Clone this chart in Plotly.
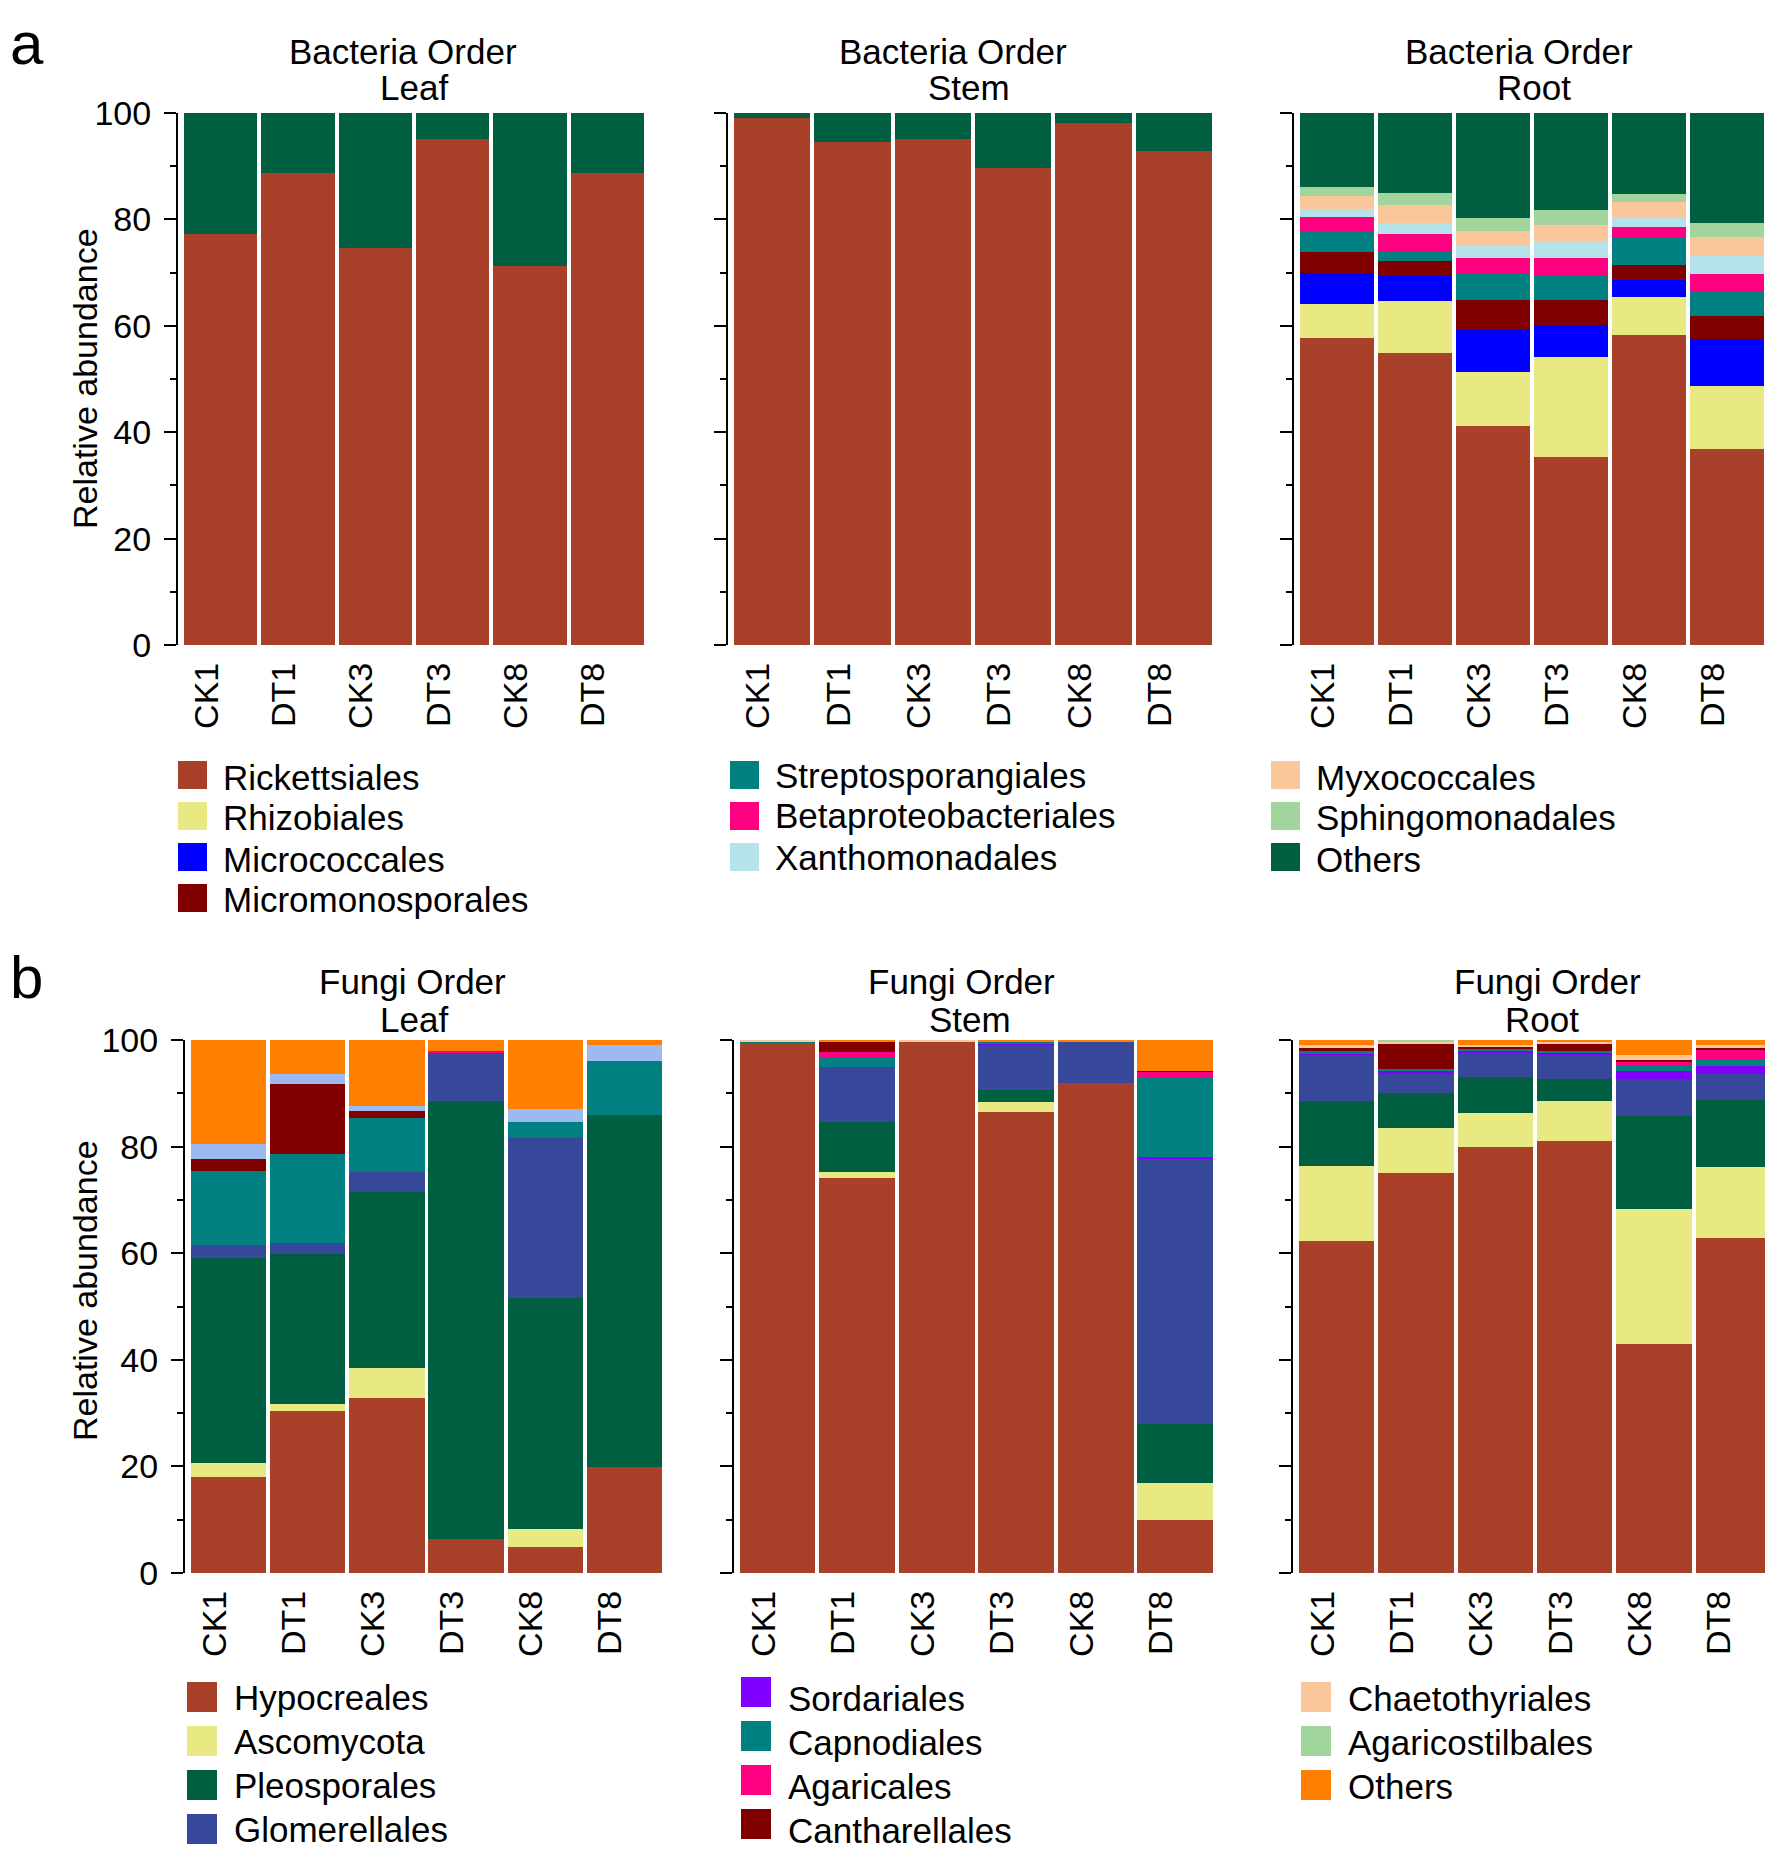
import plotly.graph_objects as go

W, H = 1773, 1857

samples = ["CK1", "DT1", "CK3", "DT3", "CK8", "DT8"]
tissues = ["Leaf", "Stem", "Root"]

# ---------------- Bacteria (values per tissue: Leaf, Stem, Root; 6 samples each) ----------------
bac_names = ["Rickettsiales", "Rhizobiales", "Micrococcales", "Micromonosporales",
             "Streptosporangiales", "Betaproteobacteriales", "Xanthomonadales",
             "Myxococcales", "Sphingomonadales", "Others"]
bac_colors = ["#A8402A", "#E8E982", "#0000FF", "#800000", "#008080", "#FF0080",
              "#B6E3EA", "#F9C799", "#A2D59B", "#005F40"]

rickettsiales = [77.2, 88.8, 74.6, 95.1, 71.2, 88.8,
                 99.1, 94.6, 95.1, 89.7, 98.2, 92.9,
                 57.7, 54.9, 41.2, 35.3, 58.2, 36.9]
rhizobiales = [0, 0, 0, 0, 0, 0,
               0, 0, 0, 0, 0, 0,
               6.4, 9.7, 10.1, 18.9, 7.2, 11.8]
micrococcales = [0, 0, 0, 0, 0, 0,
                 0, 0, 0, 0, 0, 0,
                 5.8, 4.7, 8.0, 6.0, 3.2, 8.8]
micromonosporales = [0, 0, 0, 0, 0, 0,
                     0, 0, 0, 0, 0, 0,
                     4.0, 2.8, 5.6, 4.6, 2.9, 4.4]
streptosporangiales = [0, 0, 0, 0, 0, 0,
                       0, 0, 0, 0, 0, 0,
                       3.8, 2.0, 4.9, 4.7, 5.0, 4.6]
betaproteobacteriales = [0, 0, 0, 0, 0, 0,
                         0, 0, 0, 0, 0, 0,
                         2.7, 3.1, 3.0, 3.3, 2.0, 3.3]
xanthomonadales = [0, 0, 0, 0, 0, 0,
                   0, 0, 0, 0, 0, 0,
                   1.5, 2.2, 2.2, 3.2, 1.7, 3.3]
myxococcales = [0, 0, 0, 0, 0, 0,
                0, 0, 0, 0, 0, 0,
                2.5, 3.4, 2.8, 2.9, 3.0, 3.5]
sphingomonadales = [0, 0, 0, 0, 0, 0,
                    0, 0, 0, 0, 0, 0,
                    1.7, 2.1, 2.5, 2.9, 1.6, 2.8]
bac_others = [22.8, 11.2, 25.4, 4.9, 28.8, 11.2,
              0.9, 5.4, 4.9, 10.3, 1.8, 7.1,
              13.9, 15.1, 19.7, 18.2, 15.2, 20.6]
bac_values = [rickettsiales, rhizobiales, micrococcales, micromonosporales,
              streptosporangiales, betaproteobacteriales, xanthomonadales,
              myxococcales, sphingomonadales, bac_others]

# ---------------- Fungi ----------------
fun_names = ["Hypocreales", "Ascomycota", "Pleosporales", "Glomerellales",
             "Sordariales", "Capnodiales", "Agaricales", "Cantharellales",
             "Chaetothyriales", "Agaricostilbales", "unlabelled", "Others"]
fun_colors = ["#A8402A", "#E8E982", "#005F40", "#37479A", "#8000FF", "#008080",
              "#FF0080", "#800000", "#F9C799", "#A2D59B", "#9CB9F0", "#FF8000"]
fun_legend = [True, True, True, True, True, True, True, True, True, True, False, True]

hypocreales = [18.0, 30.4, 32.9, 6.4, 4.8, 19.9,
               99.6, 74.1, 99.8, 86.5, 92.0, 10.0,
               62.2, 75.1, 80.0, 81.1, 43.0, 62.8]
ascomycota = [2.6, 1.4, 5.6, 0, 3.4, 0,
              0, 1.1, 0, 1.8, 0, 6.8,
              14.1, 8.4, 6.3, 7.4, 25.3, 13.3]
pleosporales = [38.5, 28.1, 32.9, 82.1, 43.4, 66.0,
                0, 9.5, 0, 2.3, 0, 11.1,
                12.3, 6.6, 6.8, 4.2, 17.4, 12.7]
glomerellales = [2.5, 2.0, 3.8, 9.2, 30.0, 0,
                 0, 10.3, 0, 8.6, 7.6, 49.8,
                 8.6, 3.5, 4.5, 4.4, 6.9, 4.9]
sordariales = [0, 0, 0, 0, 0, 0,
               0, 0, 0, 0.2, 0, 0.3,
               0.3, 0.5, 0.5, 0.5, 1.5, 1.5]
capnodiales = [13.9, 16.8, 10.1, 0, 3.1, 10.2,
               0.2, 1.7, 0, 0.3, 0, 15.1,
               0.3, 0.5, 0.3, 0.3, 1.0, 1.3]
agaricales = [0, 0, 0, 0.2, 0, 0,
              0, 1.0, 0, 0, 0, 0.9,
              0.2, 0, 0, 0, 0.9, 1.7]
cantharellales = [2.2, 13.1, 1.4, 0, 0, 0,
                  0, 2.0, 0, 0, 0, 0.2,
                  0.5, 4.8, 0.3, 1.5, 0.3, 0.3]
chaetothyriales = [0, 0, 0, 0, 0, 0,
                   0.2, 0, 0.2, 0, 0, 0,
                   0.5, 0.3, 0.4, 0.3, 0.9, 0.6]
agaricostilbales = [0, 0, 0, 0, 0, 0,
                    0, 0, 0, 0, 0, 0,
                    0, 0.3, 0, 0, 0, 0]
unlabelled = [2.8, 1.8, 1.0, 0, 2.3, 2.9,
              0, 0, 0, 0, 0, 0,
              0, 0, 0, 0, 0, 0]
fun_others = [19.5, 6.4, 12.3, 2.1, 13.0, 1.0,
              0, 0.3, 0, 0.3, 0.4, 5.8,
              1.0, 0, 0.9, 0.3, 2.8, 0.9]
fun_values = [hypocreales, ascomycota, pleosporales, glomerellales, sordariales,
              capnodiales, agaricales, cantharellales, chaetothyriales,
              agaricostilbales, unlabelled, fun_others]

y_ticks = [0, 20, 40, 60, 80, 100]

# ---------------- layout helpers (pixel -> paper; page body has an 8px margin) ----------------
OFF = 8

def px(x):
    return (x - OFF) / W

def py(y):
    return 1 - (y - OFF) / H

FONT = "Arial, Liberation Sans, sans-serif"

# panel domains in pixels
x_domains = [(178, 646), (728, 1214), (1294, 1766),
             (185, 664), (734, 1215), (1293, 1773)]
y_domains = [(113, 645)] * 3 + [(1040, 1573)] * 3

fig = go.Figure()

def add_group(values, names, colors, row):
    for t in range(3):
        idx = row * 3 + t + 1
        xa = "x" if idx == 1 else f"x{idx}"
        ya = "y" if idx == 1 else f"y{idx}"
        for vals, name, col in zip(values, names, colors):
            fig.add_trace(go.Bar(
                x=samples, y=vals[t * 6:(t + 1) * 6], name=name,
                marker=dict(color=col, line=dict(width=0)),
                xaxis=xa, yaxis=ya, showlegend=False,
            ))

add_group(bac_values, bac_names, bac_colors, 0)
add_group(fun_values, fun_names, fun_colors, 1)

layout = dict(
    template="none",
    width=W, height=H, barmode="stack", bargap=0.05,
    margin=dict(l=0, r=0, t=0, b=0, autoexpand=False),
    paper_bgcolor="white", plot_bgcolor="white",
    font=dict(family=FONT, size=34, color="black"),
    showlegend=False,
)

for i in range(6):
    idx = i + 1
    xk = "xaxis" if idx == 1 else f"xaxis{idx}"
    yk = "yaxis" if idx == 1 else f"yaxis{idx}"
    xd, yd = x_domains[i], y_domains[i]
    first = i % 3 == 0
    layout[xk] = dict(
        domain=[max(0, px(xd[0])), min(1, px(xd[1]))], anchor="y" if idx == 1 else f"y{idx}",
        type="category", range=[-0.55, 5.5], showline=False, showgrid=False,
        zeroline=False, ticks="", tickangle=-90, tickfont=dict(size=34),
        ticklabelstandoff=10, ticklabelshift=-14, automargin=False,
    )
    layout[yk] = dict(
        domain=[py(yd[1]), py(yd[0])], anchor="x" if idx == 1 else f"x{idx}",
        range=[0, 100], showline=True, linecolor="black", linewidth=2,
        ticks="outside", ticklen=12, tickwidth=2, tickcolor="black",
        tickvals=y_ticks, showticklabels=first, tickfont=dict(size=34),
        ticklabelstandoff=6, automargin=False,
        minor=dict(ticks="outside", ticklen=6, tickwidth=2, tickcolor="black", dtick=10,
                   showgrid=False),
        showgrid=False, zeroline=False,
    )

annotations = []
def ann(text, x, y, size=34, xanchor="center", textangle=0, yanchor="middle"):
    annotations.append(dict(text=text, x=max(0, px(x)), y=min(1, py(y)), xref="paper", yref="paper",
                            showarrow=False, xanchor=xanchor, yanchor=yanchor,
                            textangle=textangle, font=dict(size=size, family=FONT, color="black")))

# panel titles
title1_x = [403, 953, 1519, 412, 962, 1547]
title2_x = [414, 969, 1534, 414, 970, 1542]
for i in range(6):
    row = i // 3
    kingdom = "Bacteria Order" if row == 0 else "Fungi Order"
    y1, y2 = (52, 88) if row == 0 else (981, 1019)
    ann(kingdom, title1_x[i], y1, size=35)
    ann(tissues[i % 3], title2_x[i], y2, size=35)

# y titles
ann("Relative abundance", 85, 379, size=34, textangle=-90)
ann("Relative abundance", 85, 1291, size=34, textangle=-90)

# panel letters
ann("a", 0, 0, size=60, xanchor="left", yanchor="top")
ann("b", 0, 978, size=60, xanchor="left")

# legends (swatch + text), laid out column-wise
shapes = []
def legend(names, colors, show, col_counts, col_x, col_y0, row_dy, sw_w, sw_h, text_gap, text_dy):
    items = [(n, c) for n, c, s in zip(names, colors, show) if s]
    k = 0
    for col, count in enumerate(col_counts):
        for r in range(count):
            n, c = items[k]
            k += 1
            x0 = col_x[col]
            yc = col_y0[col] + r * row_dy
            shapes.append(dict(type="rect", xref="paper", yref="paper",
                               x0=px(x0), x1=px(x0 + sw_w),
                               y0=py(yc + sw_h / 2), y1=py(yc - sw_h / 2),
                               fillcolor=c, line=dict(width=0)))
            ann(n, x0 + sw_w + text_gap, yc + text_dy[col], size=35, xanchor="left")

legend(bac_names, bac_colors, [True] * 10, [4, 3, 3],
       [178, 730, 1271], [775, 775, 775], 41, 29, 28, 14, [2, 0, 2])
legend(fun_names, fun_colors, fun_legend, [4, 4, 3],
       [187, 741, 1301], [1697, 1692, 1697], 44, 30, 30, 15, [0, 6, 1])

layout["annotations"] = annotations
layout["shapes"] = shapes
fig.update_layout(**layout)
fig.write_html("out.html")
